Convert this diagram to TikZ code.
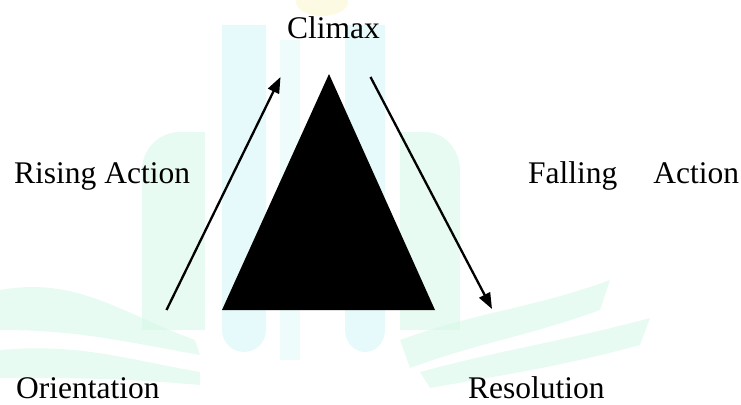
\documentclass[tikz,border=0pt]{standalone}
\usepackage{fontspec}
\setmainfont{Liberation Serif}
\usetikzlibrary{arrows.meta}
\definecolor{wmcyan}{HTML}{C8F4F6}
\definecolor{wmmint}{HTML}{CDF7E2}
\definecolor{wmyel}{HTML}{FBF3C4}
\begin{document}
\begin{tikzpicture}[x=1pt,y=-1pt,
  lbl/.style={anchor=base west,inner sep=0pt,font=\fontsize{31.5}{36}\selectfont},
  arr/.style={line width=2.3pt,-{Triangle[length=16pt,width=12pt]}},
  wm/.style={draw=none,opacity=0.45}]
\useasboundingbox (0,0) rectangle (741,404);
% faint watermark
\fill[wmyel,wm] (322,2) ellipse (26 and 14);
\fill[wmcyan,wm] (222,25) -- (266,25) -- (266,330) to[out=-90,in=0] (244,352) to[out=180,in=-90] (222,330) -- cycle;
\fill[wmcyan,wm,opacity=0.3] (280,40) rectangle (300,360);
\fill[wmcyan,wm] (345,25) -- (385,25) -- (385,330) to[out=-90,in=0] (365,352) to[out=180,in=-90] (345,330) -- cycle;
\fill[wmmint,wm] (142,170) to[out=90,in=180] (180,132) -- (205,132) -- (205,330) -- (142,330) -- cycle;
\fill[wmmint,wm] (400,330) -- (400,132) -- (425,132) to[out=0,in=90] (460,170) -- (460,330) -- cycle;
\fill[wmmint,wm] (0,290) to[out=10,in=160] (195,340) -- (200,355) to[out=170,in=0] (0,330) -- cycle;
\fill[wmmint,wm] (0,350) to[out=5,in=170] (200,372) -- (200,385) to[out=175,in=0] (0,378) -- cycle;
\fill[wmmint,wm] (400,340) to[out=20,in=200] (610,280) -- (600,310) to[out=200,in=20] (410,368) -- cycle;
\fill[wmmint,wm] (420,372) to[out=15,in=195] (650,318) -- (640,345) to[out=195,in=10] (430,388) -- cycle;
% labels
\node[lbl] (climax) at (287,39) {Climax};
\node[lbl] (rising) at (14,183) {Rising Action};
\node[lbl] (falling) at (528,183) {Falling\hspace*{28pt} Action};
\node[lbl] (orient) at (16,398) {Orientation};
\node[lbl] (resol) at (468,398) {Resolution};
% triangle
\coordinate (apex) at (329,74);
\coordinate (bl) at (222,310);
\coordinate (br) at (435,310);
\fill[black] (apex) -- (bl) -- (br) -- cycle;
% arrows
\coordinate (rs) at (166.5,310);
\coordinate (re) at (280.5,77);
\coordinate (fs) at (370.5,77);
\coordinate (fe) at (492,309);
\draw[arr] (rs) -- (re);
\draw[arr] (fs) -- (fe);
\end{tikzpicture}
\end{document}
